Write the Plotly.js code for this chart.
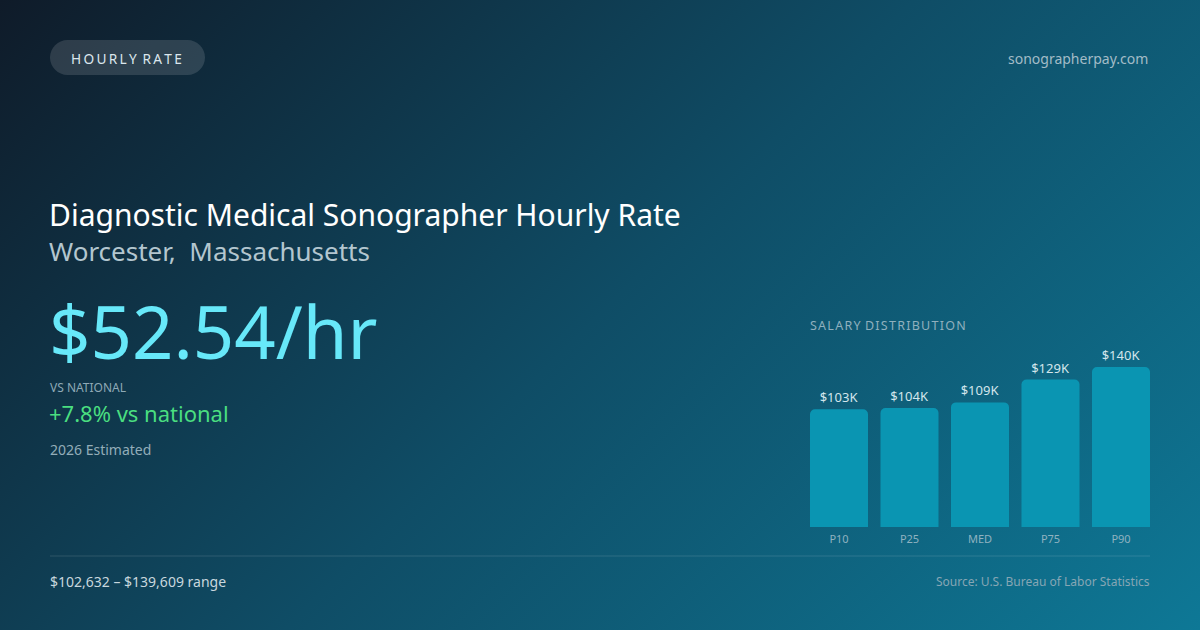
<!DOCTYPE html>
<html>
<head>
<meta charset="utf-8">
<script src="https://cdn.plot.ly/plotly-3.0.1.min.js"></script>
<style>
  html, body { margin: 0; padding: 0; }
  #myDiv {
    width: 1200px; height: 630px;
    background: linear-gradient(135deg, #0f1b29 0%, #0f4d66 50%, #0e7896 100%);
  }
</style>
</head>
<body>
<div id="myDiv"></div>
<script>
var percentiles = ['P10', 'P25', 'MED', 'P75', 'P90'],
    salaryK = [103, 104, 109, 129, 140];

var W = 1200, H = 630;
var FONT = '"Noto Sans", "Open Sans", sans-serif';

// pixel helpers for the card text
function px(x) { return x / W; }
function py(y) { return 1 - y / H; }
function label(text, x, y, size, color, anchor) {
  return {
    text: text, xref: 'paper', yref: 'paper',
    x: px(x), y: py(y), xanchor: anchor || 'left', yanchor: 'middle',
    showarrow: false, font: {family: FONT, size: size, color: color}
  };
}

var data = [{
  type: 'bar',
  x: percentiles,
  y: salaryK,
  marker: {color: '#0a95b2', cornerradius: 5},
  texttemplate: '$%{y}K',
  textposition: 'outside',
  textfont: {family: FONT, size: 13, color: '#d3e6ec'},
  cliponaxis: false,
  hoverinfo: 'skip'
}];

var layout = {
  width: W, height: H,
  margin: {l: 0, r: 0, t: 0, b: 0},
  paper_bgcolor: 'rgba(0,0,0,0)',
  plot_bgcolor: 'rgba(0,0,0,0)',
  showlegend: false,
  bargap: 0.177,
  xaxis: {
    domain: [px(810), px(1150)],
    range: [-0.4113, 4.4113],
    showgrid: false, zeroline: false, showline: false, ticks: '',
    ticklabelstandoff: 4,
    tickfont: {family: FONT, size: 11, color: '#8fb2c0'},
    fixedrange: true
  },
  yaxis: {
    domain: [py(527), py(340)],
    range: [0, 163.6],
    visible: false, fixedrange: true
  },
  shapes: [
    {type: 'path', xref: 'paper', yref: 'paper', line: {width: 0},
     fillcolor: 'rgba(255,255,255,0.13)',
     path: 'M ' + px(67.5) + ',' + py(40) + ' L ' + px(187.5) + ',' + py(40) +
           ' C ' + px(197) + ',' + py(40) + ' ' + px(205) + ',' + py(48) + ' ' + px(205) + ',' + py(57.5) +
           ' C ' + px(205) + ',' + py(67) + ' ' + px(197) + ',' + py(75) + ' ' + px(187.5) + ',' + py(75) +
           ' L ' + px(67.5) + ',' + py(75) +
           ' C ' + px(58) + ',' + py(75) + ' ' + px(50) + ',' + py(67) + ' ' + px(50) + ',' + py(57.5) +
           ' C ' + px(50) + ',' + py(48) + ' ' + px(58) + ',' + py(40) + ' ' + px(67.5) + ',' + py(40) + ' Z'},
    {type: 'line', xref: 'paper', yref: 'paper',
     x0: px(50), x1: px(1150), y0: py(556), y1: py(556),
     line: {color: 'rgba(255,255,255,0.13)', width: 1}}
  ],
  annotations: [
    label('H\u2009O\u2009U\u2009R\u2009L\u2009Y\u2009 R\u2009A\u2009T\u2009E', 126.5, 58, 13.7, '#dbe6ec', 'center'),
    label('sonographerpay.com', 1150, 58, 14, '#a3bcc7', 'right'),
    label('Diagnostic Medical Sonographer Hourly Rate', 47, 214, 30, '#ffffff'),
    label('Worcester,  Massachusetts', 47, 251, 26, '#b3c6cf'),
    label('$52.54/hr', 47, 330, 72.5, '#67e8f9'),
    label('VS NATIONAL', 48, 387, 12, '#8ea9b6'),
    label('+7.8% vs national', 47, 413, 22, '#4ade80'),
    label('2026 Estimated', 48, 449, 14, '#93adb9'),
    label('S\u200AA\u200AL\u200AA\u200AR\u200AY\u200A D\u200AI\u200AS\u200AT\u200AR\u200AI\u200AB\u200AU\u200AT\u200AI\u200AO\u200AN', 808, 325, 12.5, '#8fb0be'),
    label('$102,632 \u2013 $139,609 range', 48, 581, 14, '#c8d7de'),
    label('Source: U.S. Bureau of Labor Statistics', 1152, 581, 12, '#86a6b4', 'right')
  ]
};

Plotly.newPlot('myDiv', data, layout, {staticPlot: true, displayModeBar: false});
</script>
</body>
</html>
